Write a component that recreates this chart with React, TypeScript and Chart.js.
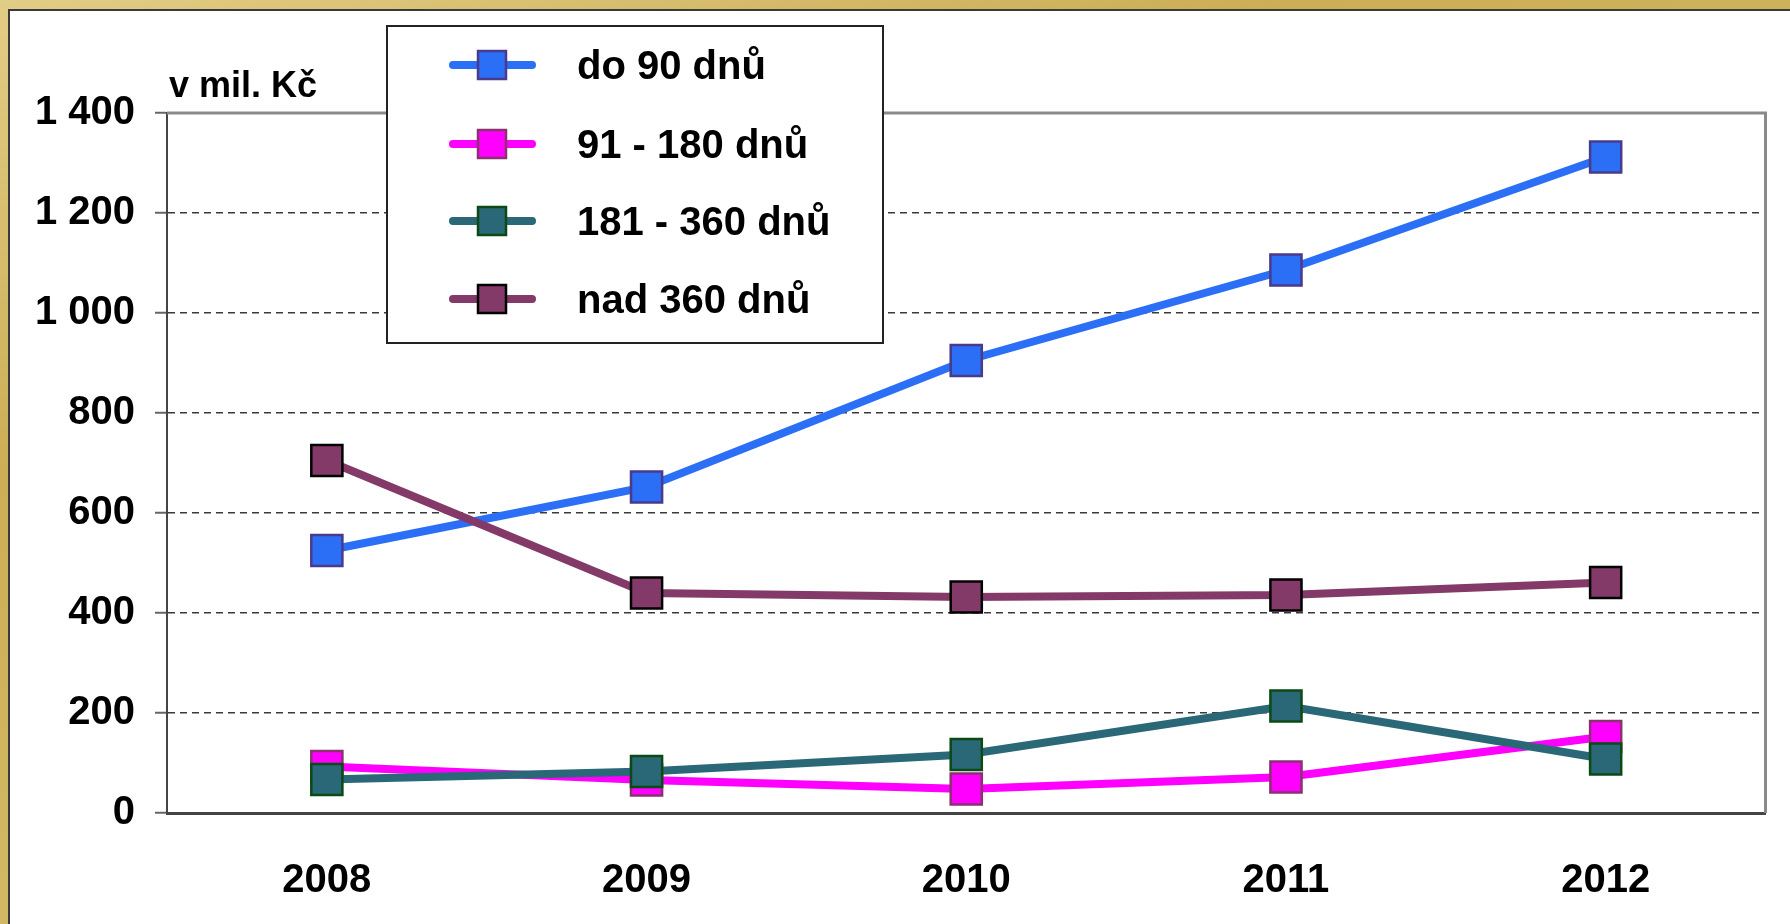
import React, { useEffect, useRef } from "react";
import { Chart, registerables } from "chart.js";

Chart.register(...registerables);

const categories = ["2008", "2009", "2010", "2011", "2012"];
const seriesNames = ["do 90 dnů", "91 - 180 dnů", "181 - 360 dnů", "nad 360 dnů"];
const do90 = [525, 652, 905, 1086, 1312];
const d91to180 = [93, 66, 48, 72, 153];
const d181to360 = [67, 83, 117, 214, 108];
const nad360 = [705, 440, 432, 436, 461];
const yTicks = [0, 200, 400, 600, 800, 1000, 1200, 1400];
const axisTitle = "v mil. Kč";

const lineColors = ["#2C6FF7", "#FF00FF", "#2A6878", "#843A68"];
const markerBorders = ["#4A3A8C", "#8B3070", "#0B4A14", "#000000"];

const FONT = "'Liberation Sans', Arial, sans-serif";

function fmt(v: number) {
  const s = String(Math.round(v));
  return s.replace(/\B(?=(\d{3})+(?!\d))/g, " ");
}

const overlayPlugin = {
  id: "overlay",
  beforeDatasetsDraw(chart: any) {
    const { ctx, chartArea } = chart;
    ctx.save();
    ctx.strokeStyle = "#8a8a8a";
    ctx.lineWidth = 3;
    ctx.beginPath();
    ctx.moveTo(chartArea.left, chartArea.top);
    ctx.lineTo(chartArea.right, chartArea.top);
    ctx.lineTo(chartArea.right, chartArea.bottom);
    ctx.stroke();
    ctx.restore();
  },
  afterDraw(chart: any) {
    const { ctx } = chart;
    ctx.save();
    // axis title
    ctx.fillStyle = "#000";
    ctx.font = `bold 36px ${FONT}`;
    ctx.textAlign = "left";
    ctx.textBaseline = "alphabetic";
    ctx.fillText(axisTitle, 169, 97);

    // legend box
    const bx = 387, by = 26, bw = 496, bh = 317;
    ctx.fillStyle = "#fff";
    ctx.fillRect(bx, by, bw, bh);
    ctx.strokeStyle = "#222";
    ctx.lineWidth = 2;
    ctx.strokeRect(bx, by, bw, bh);
    const rows = [65, 144, 221, 299];
    chart.data.datasets.forEach((ds: any, i: number) => {
      const cy = rows[i];
      ctx.strokeStyle = ds.borderColor;
      ctx.lineWidth = 8;
      ctx.lineCap = "round";
      ctx.beginPath();
      ctx.moveTo(453, cy);
      ctx.lineTo(532, cy);
      ctx.stroke();
      const s = 28;
      ctx.fillStyle = ds.pointBackgroundColor;
      ctx.fillRect(492 - s / 2, cy - s / 2, s, s);
      ctx.strokeStyle = ds.pointBorderColor;
      ctx.lineWidth = 2.5;
      ctx.lineCap = "butt";
      ctx.strokeRect(492 - s / 2, cy - s / 2, s, s);
      ctx.fillStyle = "#000";
      ctx.font = `bold 40px ${FONT}`;
      ctx.textBaseline = "alphabetic";
      ctx.fillText(ds.label, 577, cy + 14);
    });
    ctx.restore();
  },
};

export default function App() {
  const ref = useRef<HTMLCanvasElement | null>(null);

  useEffect(() => {
    document.body.style.margin = "0";
    const canvas = ref.current;
    if (!canvas) return;
    const seriesData = [do90, d91to180, d181to360, nad360];
    const orders = [4, 3, 2, 1];
    const chart = new Chart(canvas, {
      type: "line",
      data: {
        labels: categories,
        datasets: seriesData.map((d, i) => ({
          label: seriesNames[i],
          data: d,
          borderColor: lineColors[i],
          backgroundColor: lineColors[i],
          borderWidth: 8,
          pointStyle: "rect",
          pointRadius: 22,
          pointHoverRadius: 22,
          pointBackgroundColor: lineColors[i],
          pointBorderColor: markerBorders[i],
          pointBorderWidth: 2.5,
          tension: 0,
          fill: false,
          order: orders[i],
        })),
      },
      options: {
        responsive: false,
        animation: false,
        events: [],
        layout: { padding: { top: 113, right: 18, left: 0, bottom: 0 } },
        plugins: {
          legend: { display: false },
          tooltip: { enabled: false },
          title: { display: false },
        },
        scales: {
          x: {
            type: "category",
            offset: true,
            grid: { display: false, drawTicks: false },
            border: { display: true, color: "#444", width: 3 },
            ticks: {
              color: "#000",
              font: { family: FONT, size: 40, weight: "bold" },
              padding: 44,
              maxRotation: 0,
            },
            afterFit: (scale: any) => {
              scale.height = 111;
            },
          },
          y: {
            min: 0,
            max: 1400,
            afterBuildTicks: (scale: any) => {
              scale.ticks = yTicks.map((v) => ({ value: v }));
            },
            grid: {
              color: (c: any) =>
                c.tick && (c.tick.value === 0 || c.tick.value === 1400)
                  ? "rgba(0,0,0,0)"
                  : "#3a3a3a",
              lineWidth: 1.5,
              tickColor: "#666",
              tickWidth: 2,
              tickLength: 12,
              tickBorderDash: [],
            },
            border: { display: true, color: "#444", width: 2, dash: [7, 5] },
            ticks: {
              color: "#000",
              font: { family: FONT, size: 40, weight: "bold" },
              padding: 20,
              callback: (v: any) => fmt(Number(v)),
            },
            afterFit: (scale: any) => {
              scale.width = 167;
            },
          },
        },
      },
      plugins: [overlayPlugin],
    } as any);
    return () => chart.destroy();
  }, []);

  return (
    <div
      style={{
        position: "fixed",
        left: 0,
        top: 0,
        width: 1790,
        height: 924,
        background:
          "linear-gradient(160deg, #E2CD86 0%, #CBAE55 30%, #D3B965 60%, #E0CD8E 100%)",
        overflow: "hidden",
      }}
    >
      <div
        style={{
          position: "absolute",
          left: 8,
          top: 9,
          right: 0,
          bottom: 0,
          background: "#fff",
          borderLeft: "2px solid #3a3a3a",
          borderTop: "2px solid #3a3a3a",
        }}
      />
      <canvas
        ref={ref}
        width={1790}
        height={924}
        style={{ position: "absolute", left: 0, top: 0, width: 1790, height: 924 }}
      />
    </div>
  );
}
